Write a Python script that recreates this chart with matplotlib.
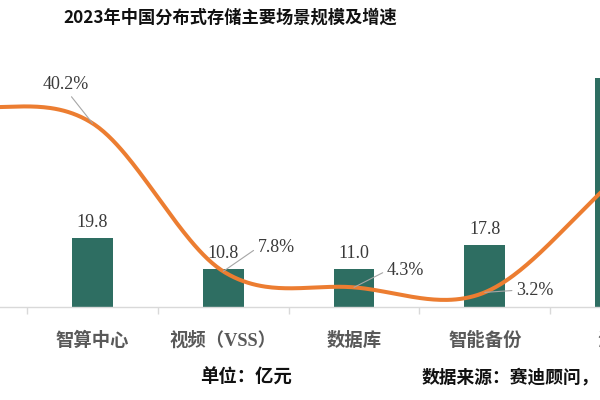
import numpy as np
import matplotlib
matplotlib.use("Agg")
import matplotlib.pyplot as plt
from matplotlib.transforms import blended_transform_factory

plt.rcParams['font.family'] = ['Noto Sans CJK SC', 'DejaVu Sans']

categories = ["数据湖仓", "智算中心", "视频（VSS）", "数据库", "智能备份", "海量"]
scale = [30.0, 19.8, 10.8, 11.0, 17.8, 65.3]          # 亿元
growth = [44.0, 40.2, 7.8, 4.3, 3.2, 28.0]           # %
growth_labels = ["", "40.2%", "7.8%", "4.3%", "3.2%", ""]
title = "2023年中国分布式存储主要场景规模及增速"
unit_text = "单位：亿元"
source_text = "数据来源：赛迪顾问，"

BAR = "#2E6E62"
LINE = "#EC7D31"

fig = plt.figure(figsize=(6, 4), dpi=100)
ax = fig.add_axes([0.0, 0.2325, 1.0, 0.6175])
ax2 = ax.twinx()

x = np.arange(len(categories))
bars = ax.bar(x, scale, width=0.31, color=BAR, zorder=2)
ax.bar_label(bars, labels=[f"{v:.1f}" for v in scale], padding=5,
             fontsize=13, family="Liberation Serif", color="#3a3a3a")

# smooth (Catmull-Rom) curve through the growth points
p = np.array(growth, dtype=float)
n = len(p)
m = np.zeros(n)
m[1:-1] = (p[2:] - p[:-2]) / 2
m[0] = p[1] - p[0]
m[-1] = p[-1] - p[-2]
xs, ys = [], []
for i in range(n - 1):
    t = np.linspace(0, 1, 60)
    h00 = 2*t**3 - 3*t**2 + 1
    h10 = t**3 - 2*t**2 + t
    h01 = -2*t**3 + 3*t**2
    h11 = t**3 - t**2
    xs.append(i + t)
    ys.append(h00*p[i] + h10*m[i] + h01*p[i+1] + h11*m[i+1])
ax2.plot(np.concatenate(xs), np.concatenate(ys), color=LINE, lw=2.9,
         solid_capstyle='round', zorder=3)

offsets = {1: (-19, 28, (0.55, 0.0)), 2: (38, 17, (0.0, 0.5)),
           3: (37, 12, (0.0, 0.5)), 4: (36, 1.5, (0.0, 0.5))}
for i, (dx, dy, rp) in offsets.items():
    ax2.annotate(growth_labels[i], xy=(x[i], growth[i]), xytext=(dx, dy),
                 textcoords="offset points", ha="center", va="center",
                 fontsize=13, family="Liberation Serif", color="#3a3a3a",
                 arrowprops=dict(arrowstyle="-", color="#A6A6A6", lw=0.8,
                                 shrinkA=1, shrinkB=0, relpos=rp))

for a in (ax, ax2):
    for s in ("top", "right", "left"):
        a.spines[s].set_visible(False)
    a.set_yticks([])
ax2.spines["bottom"].set_visible(False)
ax.spines["bottom"].set_color("#D9D9D9")
ax.spines["bottom"].set_linewidth(1.0)

ax.set_xticks([])
ax.set_xticks(np.arange(-0.5, len(categories)), minor=True)
ax.tick_params(axis="x", which="minor", length=5, color="#D9D9D9", width=1)

trans = blended_transform_factory(ax.transData, fig.transFigure)
for xi, name in zip(x, categories):
    fam = ["Liberation Serif", "Noto Sans CJK SC"] if "VSS" in name else None
    kw = {"family": fam} if fam else {}
    ax.text(xi, 0.148, name, transform=trans, ha="center", va="center",
            fontsize=13.2, fontweight="bold", color="#595959", clip_on=False, **kw)

x0 = 1 - 92.5/130.75
x1 = 1 + 507.5/130.75
ax.set_xlim(x0, x1)
ax.set_ylim(0, 247/3.5)
ax2.set_ylim(0, 247/4.57)

fig.text(0.383, 0.957, title, ha="center", va="center", fontsize=12.4,
         fontweight="bold", color="#111111")
fig.text(0.41, 0.0575, unit_text, ha="center", va="center", fontsize=13.2,
         fontweight="bold", color="#111111")
fig.text(0.703, 0.0575, source_text, ha="left", va="center", fontsize=12.8,
         fontweight="bold", color="#111111")

fig.savefig("out.png", dpi=100)
